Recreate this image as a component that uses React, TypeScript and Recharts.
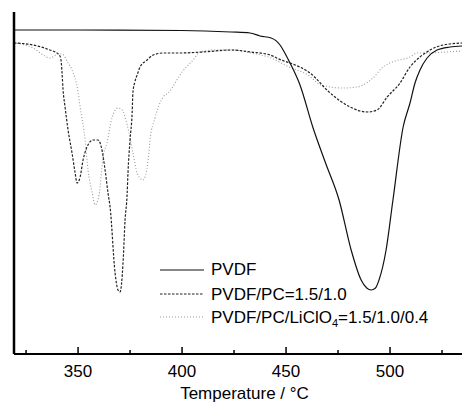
import React from 'react';
import { LineChart, Line, XAxis, YAxis, Legend, ReferenceLine } from 'recharts';

// Temperature (°C) and DTG signal (arbitrary units, higher = less mass loss rate)
const pvdfT = [319.2, 350, 400, 423.6, 432.7, 437.5, 442.8, 447.1, 448.6, 451.9, 456.7, 463.0, 469.0, 475.5, 481.3, 486.1, 488.8, 490.9, 493.0, 494.7, 498.1, 501.4, 506.3, 509.6, 512.0, 514.4, 517.8, 522.6, 528.8, 534.6];
const pvdfV = [324, 324, 323.5, 322, 321, 318, 316, 309, 304, 291, 269, 226, 191, 154, 104, 74, 66, 64, 66, 74, 104, 154, 227, 251, 271, 284, 296, 304, 307, 308];

const pcT = [319.2, 328.4, 336.5, 339.0, 341.3, 342.0, 342.3, 342.8, 343.75, 345.2, 347.1, 348.6, 349.5, 351.0, 352.4, 354.3, 357.2, 359.6, 361.5, 363.0, 364.4, 365.4, 367.8, 369.2, 370.2, 371.6, 372.6, 373.6, 374.0, 375.0, 376.0, 376.4, 377.3, 378.4, 379.8, 383.2, 386.1, 391.0, 399.0, 410.0, 423.6, 433.2, 442.3, 447.6, 451.9, 461.5, 471.2, 480.8, 489.0, 493.75, 498.6, 504.8, 509.6, 514.4, 519.2, 525.5, 534.6];
const pcV = [311, 309, 304, 302, 298, 290, 281, 264, 247, 224, 201, 181, 171, 177, 194, 207, 214, 214, 204, 184, 161, 147, 81, 64, 62, 90, 134, 160, 181, 214, 241, 262, 272, 279, 287, 294, 299, 301, 301, 302, 304, 302, 299, 294, 291, 281, 261, 247, 242, 244, 257, 271, 287, 297, 304, 309, 311];

const liT = [319.2, 328.4, 333.2, 336.5, 340.4, 342.3, 345.2, 347.1, 350.0, 351.0, 353.4, 354.8, 356.7, 358.2, 360.1, 362.0, 363.9, 366.3, 369.2, 371.2, 373.6, 376.4, 378.4, 381.25, 383.7, 384.6, 387.0, 390.9, 393.3, 400.0, 405.3, 408.7, 414.9, 423.6, 433.2, 442.8, 451.4, 460.6, 466.8, 477.4, 484.1, 489.4, 491.8, 496.6, 501.0, 509.6, 513.0, 517.8, 527.4, 534.6];
const liV = [311, 306, 299, 296, 300, 300, 291, 284, 262, 247, 214, 184, 162, 149, 159, 197, 211, 236, 246, 244, 229, 201, 181, 174, 194, 214, 236, 257, 261, 282, 294, 302, 304, 304, 301, 296, 287, 279, 269, 266, 267, 272, 276, 287, 292, 297, 301, 301, 302, 303];

const xTicks = [325, 350, 375, 400, 425, 450, 475, 500, 525];
const xDomain = [319.2, 534.6];
const yDomain = [0, 342];

const seriesNames = ['PVDF', 'PVDF/PC=1.5/1.0', 'PVDF/PC/LiClO'];

const zip = (t: number[], v: number[]) => t.map((x, i) => ({ t: x, v: v[i] }));
const pvdfData = zip(pvdfT, pvdfV);
const pcData = zip(pcT, pcV);
const liData = zip(liT, liV);

const FONT = '"Liberation Sans", Arial, Helvetica, sans-serif';

const XTick = (props: any) => {
  const { x, y, payload } = props;
  const major = payload.value % 50 === 0;
  return (
    <g>
      <line x1={x} x2={x} y1={y} y2={y - (major ? 7 : 4)} stroke="#000" strokeWidth={1.5} />
      {major && (
        <text x={x} y={y + 23} textAnchor="middle" fontSize={17} fontFamily={FONT} fill="#000">
          {payload.value}
        </text>
      )}
    </g>
  );
};

const XLabel = (props: any) => {
  const vb = props.viewBox || { x: 14, y: 354, width: 448 };
  return (
    <text x={vb.x + 230.5} y={vb.y + 45} textAnchor="middle" fontSize={17} fontFamily={FONT} fill="#000">
      Temperature / °C
    </text>
  );
};

const LegendContent = () => (
  <svg width={300} height={80} style={{ display: 'block' }}>
    <line x1={10} x2={54} y1={15} y2={15} stroke="#111" strokeWidth={1.2} />
    <text x={61} y={20} fontSize={17} fontFamily={FONT} fill="#000">{seriesNames[0]}</text>
    <line x1={10} x2={54} y1={39} y2={39} stroke="#222" strokeWidth={1.2} strokeDasharray="2.5 1.5" />
    <text x={61} y={45} fontSize={17} fontFamily={FONT} fill="#000">{seriesNames[1]}</text>
    <line x1={10} x2={54} y1={62} y2={62} stroke="#999" strokeWidth={1.2} strokeDasharray="1 2" />
    <text x={61} y={68} fontSize={17} fontFamily={FONT} fill="#000">
      {seriesNames[2]}
      <tspan fontSize={11} dy={4}>4</tspan>
      <tspan dy={-4}>=1.5/1.0/0.4</tspan>
    </text>
  </svg>
);

export default function App() {
  return (
    <div style={{ position: 'absolute', left: 0, top: 0, background: '#fff' }}>
      <LineChart width={462} height={403} margin={{ top: 12, right: 0, bottom: 0, left: 14 }}>
        <XAxis
          dataKey="t"
          type="number"
          domain={xDomain}
          ticks={xTicks}
          interval={0}
          allowDataOverflow
          tickSize={0}
          tickMargin={0}
          tickLine={false}
          axisLine={{ stroke: '#000', strokeWidth: 2 }}
          tick={<XTick />}
          height={49}
          label={<XLabel />}
        />
        <YAxis type="number" domain={yDomain} allowDataOverflow hide />
        <Legend
          layout="vertical"
          align="center"
          verticalAlign="middle"
          content={<LegendContent />}
          wrapperStyle={{ position: 'absolute', left: 150, top: 255, width: 300, height: 80 }}
        />
        <Line data={liData} dataKey="v" name={seriesNames[2]} type="monotone" dot={false} stroke="#9a9a9a" strokeWidth={1.1} strokeDasharray="1 2" isAnimationActive={false} />
        <Line data={pcData} dataKey="v" name={seriesNames[1]} type="monotone" dot={false} stroke="#222" strokeWidth={1.2} strokeDasharray="2.5 1.5" isAnimationActive={false} />
        <Line data={pvdfData} dataKey="v" name={seriesNames[0]} type="monotone" dot={false} stroke="#111" strokeWidth={1.2} isAnimationActive={false} />
        <ReferenceLine x={xDomain[0]} stroke="#000" strokeWidth={2.5} ifOverflow="visible" />
      </LineChart>
    </div>
  );
}
